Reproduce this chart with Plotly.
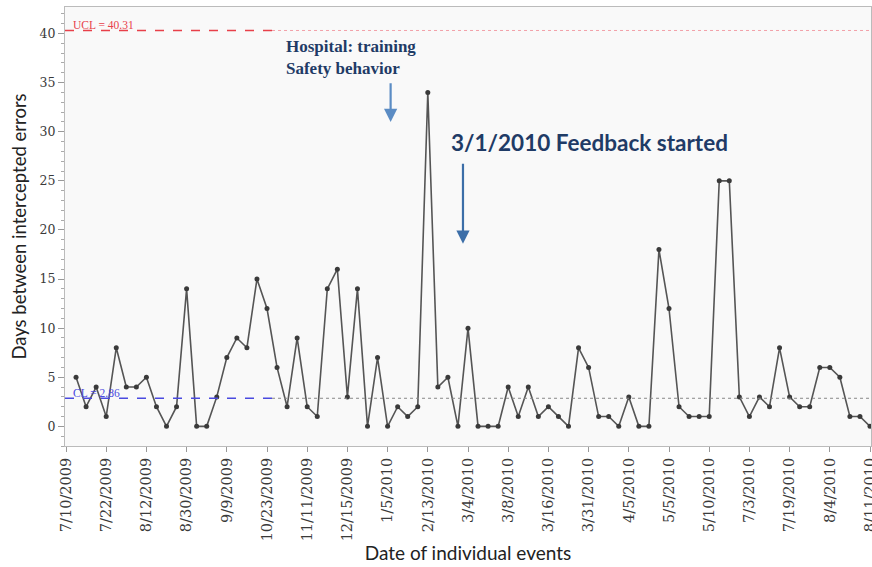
import plotly.graph_objects as go

# ---- data ----
tick_labels = ["7/10/2009", "7/22/2009", "8/12/2009", "8/30/2009", "9/9/2009",
               "10/23/2009", "11/11/2009", "12/15/2009", "1/5/2010", "2/13/2010",
               "3/4/2010", "3/8/2010", "3/16/2010", "3/31/2010", "4/5/2010",
               "5/5/2010", "5/10/2010", "7/3/2010", "7/19/2010", "8/4/2010",
               "8/11/2010"]
days_between = [5, 2, 4, 1, 8, 4, 4, 5, 2, 0,
                2, 14, 0, 0, 3, 7, 9, 8, 15, 12,
                6, 2, 9, 2, 1, 14, 16, 3, 14, 0,
                7, 0, 2, 1, 2, 34, 4, 5, 0, 10,
                0, 0, 0, 4, 1, 4, 1, 2, 1, 0,
                8, 6, 1, 1, 0, 3, 0, 0, 18, 12,
                2, 1, 1, 1, 25, 25, 3, 1, 3, 2,
                8, 3, 2, 2, 6, 6, 5, 1, 1, 0]
UCL = 40.31
CL = 2.86
event_index = list(range(1, len(days_between) + 1))
tick_index = list(range(0, len(days_between) + 1, 4))

X_MIN, X_MAX = -0.1, 80.1
DASH_END = 20.5

fig = go.Figure()
fig.add_trace(go.Scatter(
    x=event_index, y=days_between, mode="lines+markers",
    line=dict(color="#555555", width=1.6),
    marker=dict(color="#3a3a3a", size=5),
    showlegend=False, hoverinfo="skip", cliponaxis=False))

# control lines
fig.add_shape(type="line", xref="x", yref="y", x0=X_MIN, x1=DASH_END, y0=UCL, y1=UCL,
              line=dict(color="#e8404a", width=1.4, dash="dash"))
fig.add_shape(type="line", xref="x", yref="y", x0=DASH_END, x1=X_MAX, y0=UCL, y1=UCL,
              line=dict(color="#f2a0a8", width=1, dash="dot"))
fig.add_shape(type="line", xref="x", yref="y", x0=X_MIN, x1=DASH_END, y0=CL, y1=CL,
              line=dict(color="#4a4ae0", width=1.4, dash="dash"))
fig.add_shape(type="line", xref="x", yref="y", x0=DASH_END, x1=X_MAX, y0=CL, y1=CL,
              line=dict(color="#888888", width=1, dash="dot"))

fig.add_annotation(x=0.5, y=UCL, xref="x", yref="y", text=f"UCL = {UCL}",
                   showarrow=False, xanchor="left", yanchor="bottom", yshift=-3,
                   font=dict(family="Liberation Serif", size=11.5, color="#e8404a"))
fig.add_annotation(x=0.5, y=CL, xref="x", yref="y", text=f"CL = {CL}",
                   showarrow=False, xanchor="left", yanchor="bottom", yshift=-3,
                   font=dict(family="Liberation Serif", size=11.5, color="#4a4ae0"))

# event annotations
fig.add_annotation(x=21.7, y=39.9, xref="x", yref="y",
                   text="<b>Hospital: training<br>Safety behavior</b>",
                   showarrow=False, xanchor="left", yanchor="top", align="left",
                   font=dict(family="Liberation Serif", size=17, color="#1f3b66"))
fig.add_annotation(x=32.3, y=31.0, ax=32.3, ay=35.1, xref="x", yref="y",
                   axref="x", ayref="y", text="", showarrow=True,
                   arrowhead=2, arrowsize=1.2, arrowwidth=2.2, arrowcolor="#5b8cc4")
fig.add_annotation(x=52.1, y=28.9, xref="x", yref="y",
                   text="<b>3/1/2010 Feedback started</b>",
                   showarrow=False, xanchor="center", yanchor="middle",
                   font=dict(family="Lato", size=22.5, color="#1f3b66"))
fig.add_annotation(x=39.5, y=18.6, ax=39.5, ay=26.9, xref="x", yref="y",
                   axref="x", ayref="y", text="", showarrow=True,
                   arrowhead=2, arrowsize=1.2, arrowwidth=2.2, arrowcolor="#3c6ea8")

fig.update_layout(
    width=872, height=567,
    margin=dict(l=65, r=1, t=7, b=121),
    paper_bgcolor="white", plot_bgcolor="#f9f9f9",
    font=dict(family="DejaVu Serif", color="#333333"),
)
fig.update_xaxes(
    automargin=False, ticklabeloverflow="allow",
    range=[X_MIN, X_MAX], tickmode="array", tickvals=tick_index, ticktext=tick_labels,
    tickangle=-90, ticks="outside", ticklen=5, tickcolor="#999999",
    tickfont=dict(family="DejaVu Serif", size=14.5, color="#3a3a3a"),
    showgrid=False, zeroline=False, showline=True, linecolor="#bbbbbb", mirror=True,
    title=dict(text="Date of individual events", standoff=6,
               font=dict(family="Lato", size=19, color="#222222")))
fig.update_yaxes(
    automargin=False,
    range=[-2, 42.7], tickmode="array", tickvals=list(range(0, 41, 5)),
    ticks="outside", ticklen=6, tickcolor="#999999",
    minor=dict(dtick=1, ticks="outside", ticklen=3, tickcolor="#aaaaaa", showgrid=False),
    tickfont=dict(family="DejaVu Serif", size=12.5, color="#3a3a3a"),
    showgrid=False, zeroline=False, showline=True, linecolor="#bbbbbb", mirror=True,
    title=dict(text="Days between intercepted errors", standoff=8,
               font=dict(family="Lato", size=18.5, color="#222222")))

fig.write_html("out.html", config={"displayModeBar": False},
               post_script="document.body.style.margin='0';")
